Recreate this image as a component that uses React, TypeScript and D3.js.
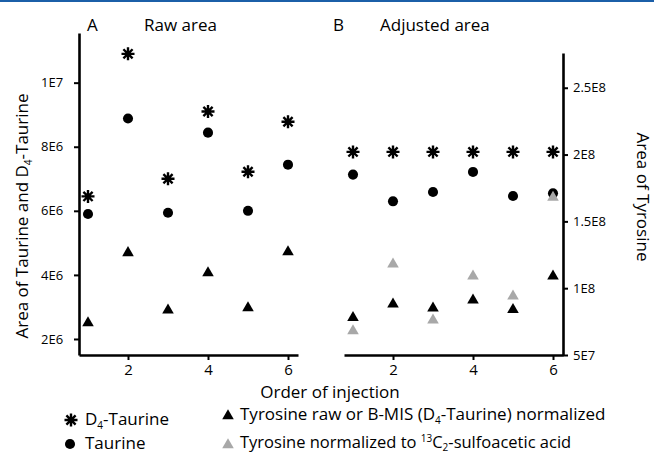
import React, { useRef, useEffect } from "react";
import * as d3 from "d3";

// order of injection
const order = [1, 2, 3, 4, 5, 6];

// panel A, raw area
const rawD4Taurine = [6.45e6, 10.9e6, 7.0e6, 9.1e6, 7.22e6, 8.78e6];
const rawTaurine = [5.9e6, 8.88e6, 5.94e6, 8.44e6, 6.0e6, 7.44e6];
const rawTyrosine = [2.5e6, 4.69e6, 2.9e6, 4.06e6, 2.97e6, 4.72e6];

// panel B, adjusted area
const adjD4Taurine = [2.02e8, 2.02e8, 2.02e8, 2.02e8, 2.02e8, 2.02e8];
const adjTaurine = [1.85e8, 1.65e8, 1.72e8, 1.87e8, 1.69e8, 1.71e8];
const adjTyrosineMis = [7.8e7, 8.8e7, 8.5e7, 9.1e7, 8.4e7, 1.09e8];
const adjTyrosineSulfo = [6.8e7, 1.18e8, 7.6e7, 1.09e8, 9.4e7, 1.68e8];

const xTicks = [2, 4, 6];
const leftTicks = [2e6, 4e6, 6e6, 8e6, 1e7];
const leftTickLabels = ["2E6", "4E6", "6E6", "8E6", "1E7"];
const rightTicks = [5e7, 1e8, 1.5e8, 2e8, 2.5e8];
const rightTickLabels = ["5E7", "1E8", "1.5E8", "2E8", "2.5E8"];

const FONT = "'Open Sans', sans-serif";
const GREY = "#a8a8a8";

// 8-armed asterisk
const starPath = (r: number) => {
  const p = d3.path();
  for (let i = 0; i < 4; i++) {
    const a = (i * Math.PI) / 4;
    p.moveTo(-r * Math.cos(a), -r * Math.sin(a));
    p.lineTo(r * Math.cos(a), r * Math.sin(a));
  }
  return p.toString();
};

function App() {
  const svgRef = useRef<SVGSVGElement>(null);

  useEffect(() => {
    const svg = d3.select(svgRef.current);
    svg.selectAll("*").remove();

    svg.append("rect").attr("x", 0).attr("y", 0).attr("width", 654).attr("height", 2).attr("fill", "#1b5fa8");

    const xA = d3.scaleLinear().domain([0.775, 6.25]).range([79, 298]);
    const xB = d3.scaleLinear().domain([0.775, 6.25]).range([344, 563]);
    const yA = d3.scaleLinear().domain([1.5e6, 11.55e6]).range([355, 33]);
    const yB = d3.scaleLinear().domain([5e7, 2.76e8]).range([355, 53]);

    const styleAxis = (g: any) => {
      g.select(".domain").attr("stroke-width", 2.6);
      g.selectAll(".tick line").attr("stroke-width", 2);
      g.selectAll(".tick text").attr("font-family", FONT).attr("font-size", 13).attr("fill", "#000");
    };

    // panel A axes
    svg.append("g").attr("transform", "translate(79,0)")
      .call(d3.axisLeft(yA).tickValues(leftTicks).tickSize(5).tickSizeOuter(0)
        .tickFormat((d, i) => leftTickLabels[i]))
      .call(styleAxis)
      .call((g: any) => g.selectAll(".tick text").attr("x", -38).attr("text-anchor", "start"));
    svg.append("g").attr("transform", "translate(0,355)")
      .call(d3.axisBottom(xA).tickValues(xTicks).tickSize(5).tickSizeOuter(0).tickFormat(d3.format("d")))
      .call(styleAxis)
      .call((g: any) => g.selectAll(".tick text").attr("font-size", 15).attr("dy", null).attr("y", 20));

    // panel B axes
    svg.append("g").attr("transform", "translate(563,0)")
      .call(d3.axisRight(yB).tickValues(rightTicks).tickSize(5).tickSizeOuter(0)
        .tickFormat((d, i) => rightTickLabels[i]))
      .call(styleAxis)
      .call((g: any) => g.selectAll(".tick text").attr("x", 10));
    svg.append("g").attr("transform", "translate(0,355)")
      .call(d3.axisBottom(xB).tickValues(xTicks).tickSize(5).tickSizeOuter(0).tickFormat(d3.format("d")))
      .call(styleAxis)
      .call((g: any) => g.selectAll(".tick text").attr("font-size", 15).attr("dy", null).attr("y", 20));

    const circle = d3.symbol().type(d3.symbolCircle).size(80)();
    const tri = d3.symbol().type(d3.symbolTriangle).size(58)();
    const star = starPath(6.5);

    const drawSeries = (vals: number[], x: any, y: any, kind: string, color: string) => {
      const g = svg.append("g");
      const sel = g.selectAll("path").data(vals).join("path")
        .attr("transform", (d, i) => `translate(${x(order[i])},${y(d)})`);
      if (kind === "star") sel.attr("d", star).attr("stroke", color).attr("stroke-width", 2.4).attr("fill", "none");
      else sel.attr("d", kind === "circle" ? circle : tri).attr("fill", color);
    };

    drawSeries(rawD4Taurine, xA, yA, "star", "#000");
    drawSeries(rawTaurine, xA, yA, "circle", "#000");
    drawSeries(rawTyrosine, xA, yA, "tri", "#000");
    drawSeries(adjD4Taurine, xB, yB, "star", "#000");
    drawSeries(adjTaurine, xB, yB, "circle", "#000");
    drawSeries(adjTyrosineSulfo, xB, yB, "tri", GREY);
    drawSeries(adjTyrosineMis, xB, yB, "tri", "#000");

    const text = (x: number, y: number, size: number, anchor = "start") =>
      svg.append("text").attr("x", x).attr("y", y).attr("font-family", FONT)
        .attr("font-size", size).attr("text-anchor", anchor).attr("fill", "#000");

    text(87, 31, 17).text("A");
    text(144, 31, 17).text("Raw area");
    text(333, 31, 17).text("B");
    text(380, 31, 17).text("Adjusted area");

    text(330, 398, 17, "middle").text("Order of injection");

    const yl = text(0, 0, 17, "middle").attr("transform", "translate(28,216) rotate(-90)");
    yl.append("tspan").text("Area of Taurine and D");
    yl.append("tspan").attr("font-size", 10).attr("dy", 4).text("4");
    yl.append("tspan").attr("dy", -4).text("-Taurine");

    text(0, 0, 17, "middle").attr("transform", "translate(637,197) rotate(90)").text("Area of Tyrosine");

    // legend
    svg.append("path").attr("d", star).attr("transform", "translate(71,420)")
      .attr("stroke", "#000").attr("stroke-width", 2.4).attr("fill", "none");
    const l1 = text(85, 425, 17);
    l1.append("tspan").text("D");
    l1.append("tspan").attr("font-size", 10).attr("dy", 4).text("4");
    l1.append("tspan").attr("dy", -4).text("-Taurine");

    svg.append("path").attr("d", circle).attr("transform", "translate(70,444)").attr("fill", "#000");
    text(85, 449, 17).text("Taurine");

    svg.append("path").attr("d", tri).attr("transform", "translate(228,416)").attr("fill", "#000");
    const l3 = text(240, 420, 17);
    l3.append("tspan").text("Tyrosine raw or B-MIS (D");
    l3.append("tspan").attr("font-size", 10).attr("dy", 4).text("4");
    l3.append("tspan").attr("dy", -4).text("-Taurine) normalized");

    svg.append("path").attr("d", tri).attr("transform", "translate(228,445)").attr("fill", GREY);
    const l4 = text(240, 448, 16.5);
    l4.append("tspan").text("Tyrosine normalized to ");
    l4.append("tspan").attr("font-size", 10).attr("dy", -6).text("13");
    l4.append("tspan").attr("dy", 6).text("C");
    l4.append("tspan").attr("font-size", 10).attr("dy", 3).text("2");
    l4.append("tspan").attr("dy", -3).text("-sulfoacetic acid");
  }, []);

  return (
    <svg ref={svgRef} width={654} height={453}
      style={{ position: "absolute", left: 0, top: 0, background: "#fff" }} />
  );
}

export default App;
